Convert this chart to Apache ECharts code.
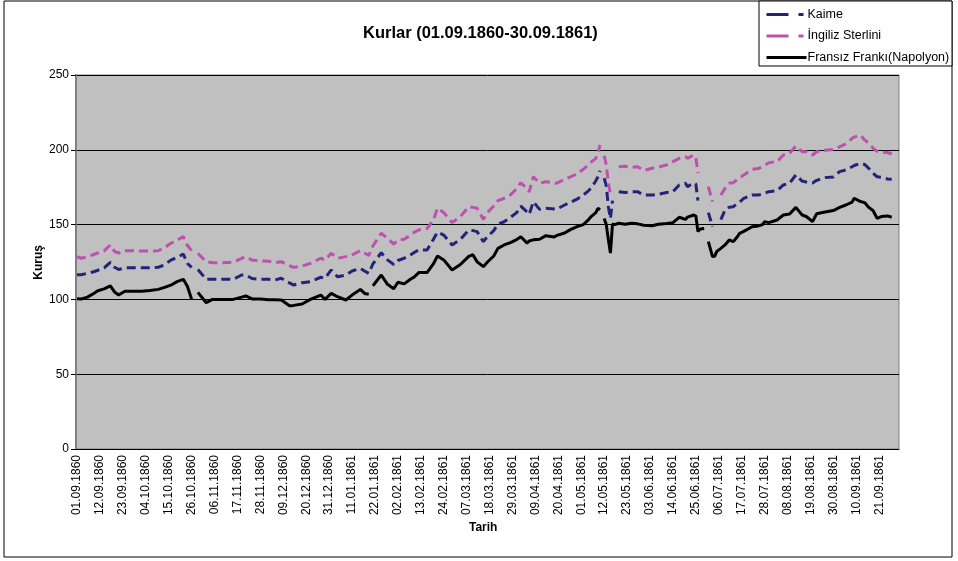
<!DOCTYPE html>
<html>
<head>
<meta charset="utf-8">
<script src="https://cdn.jsdelivr.net/npm/echarts@6/dist/echarts.min.js"></script>
<style>
html,body{margin:0;padding:0;background:#fff;}
#main{width:958px;height:561px;}
</style>
</head>
<body>
<div id="main"></div>
<script>
// gun sayisi 01.09.1860'dan itibaren
var days = [0,2,5,8,10,13,16,18,20,23,27,31,35,39,42,45,48,51,53,55,56,58,62,65,70,75,79,81,84,88,92,95,
  98,102,104,108,112,117,119,122,125,129,132,136,138,140,141,142,146,149,152,154,157,160,162,164,168,171,173,176,180,184,188,190,192,195,197,
  200,202,205,208,211,213,216,217,219,222,225,229,230,234,237,240,243,245,247,249,250,251,252,253,254,255,256,257,258,
  260,263,266,269,272,276,279,283,286,289,292,293,296,297,298,299,301,302,303,305,306,307,
  309,311,313,315,317,318,320,324,327,329,330,332,336,339,342,345,348,350,353,355,359,363,366,369,372,373,376,378,380,382,384,386,389,391];
var kaime = [116.5,116.5,117.5,118.5,119.5,121,124.8,121.5,120,121.2,121.2,121.2,121.2,121.5,123,126.3,128,130.3,124,121.4,null,120,113.4,113.4,113.4,113.5,116.3,116.3,114,113.4,113.4,113,
  114.1,111,109.6,111.2,111.9,114.8,114.1,119.7,115.2,116.3,119,120.8,119,117.4,120.5,123.7,131.2,126.4,123.3,126,127.5,129.7,131.5,133,133,140,145,143,136.4,140.2,146.4,146,145.3,138.6,142,
  146,150.4,151.9,154.9,158,162.4,158.5,156.8,165.3,160.2,160.9,160.5,160.2,163.1,165,167,169.8,172,174.8,179.3,182,186,null,181,176,162,154,166,null,
  172,171.4,171.9,172,169.8,169.8,170.3,171.4,172,176.5,177.6,175.4,178,177,166,null,null,null,158,148.6,null,null,
  153.3,159.8,161.6,162,164.3,165,167.6,169.8,169.8,170.5,171,172,172.7,176.5,177.6,183.2,179.1,178.5,177.8,179.6,181.4,181.8,185.4,186.5,188.7,189.5,190.9,190.2,187.6,184.3,182,181.6,180.5,180.3];
var sterlin = [128.5,127.5,128.5,130,131,132.5,136.4,132,131,132.6,132.5,132.3,132.3,132.6,134.5,137.5,139.5,142,136,132.6,null,130.8,125.2,124.5,124.5,125,127.5,128.5,126.3,125.7,125.5,124.5,
  125.2,122.5,121.4,122.3,124.1,127.5,126.4,130.8,127.5,128.6,129.7,132.6,131,129.3,132.5,135.7,144.2,140.9,137,139.7,140.2,143,145,146.4,147.4,153,161,158,151.3,155.4,162,161.5,160.9,153.5,158,
  162.5,166,167.6,169.8,174,178,174,171.9,182,177.6,178.7,178,177.6,180.3,182,184,187,189.5,192.1,194.3,198,203.2,null,196,190,178,170,null,null,
  188.7,189,188.3,188.7,186.2,187.7,188.3,189.9,192.1,194.3,195.4,194.3,196.5,195,184.5,null,null,null,175.4,165.3,null,null,
  169.8,174.2,177.6,178,180.3,181,183.2,186.9,187.5,188.7,189.5,191.4,192.1,196.5,197.6,202.5,198.7,198.7,196.5,198.7,199.7,200.2,202,203.9,207.7,208.5,209.9,206.6,204.4,201.1,199,198.4,198.2,197.2];
var frank = [100.5,100.3,101.5,104,105.8,107,109,105,103,105.4,105.4,105.4,106,106.7,108,109.5,111.9,113.4,108.6,100,null,104.7,97.8,100,100,100,101.5,102.3,100.3,100.3,99.8,99.8,
  99.6,95.8,96,96.9,100,102.9,100,104,101.8,99.6,102.9,106.7,104,103.5,null,109,116.3,110.1,107.1,111.5,110.4,113.5,115.2,117.9,117.9,123.7,129,126.4,119.7,123.3,128.8,129.9,125.2,121.9,125,
  129,134.1,136.4,137.9,140,141.9,137.6,139,139.8,140.2,142.6,141.7,142.6,144.4,146.8,148.6,150,152.6,155.7,158,160.9,159.8,null,154,150,140,131,150.4,150,
  150.9,150.2,150.9,150.5,149.6,149.2,150.2,150.7,151.3,154.9,153.5,155,156.4,155.7,145.3,147,147.4,null,138.6,128.6,128.8,132,
  134.1,136.4,139.7,138.6,142,144.2,145.5,148.6,149.1,150,152,151.3,153.1,156.4,157.1,161.5,156.4,155.4,152,157.3,158.4,159.4,161.5,163.1,165,167.6,165.4,164.7,161.5,159.4,154.2,155.4,155.8,154.9];

// 01.09.1860 - 30.09.1861 gunluk tarih etiketleri
var dates = [];
var start = Date.UTC(1860, 8, 1);
for (var i = 0; i < 395; i++) {
    var dt = new Date(start + i * 86400000);
    var dd = ('0' + dt.getUTCDate()).slice(-2), mm = ('0' + (dt.getUTCMonth() + 1)).slice(-2);
    dates.push(dd + '.' + mm + '.' + dt.getUTCFullYear());
}

function pairs(vals) {
    return days.map(function (d, i) { return [d, vals[i]]; });
}

var font = 'Liberation Sans, Arial, sans-serif';
var myChart = echarts.init(document.getElementById('main'));
var option = {
    animation: false,
    backgroundColor: '#fff',
    textStyle: {fontFamily: font},
    title: {
        text: 'Kurlar (01.09.1860-30.09.1861)',
        left: 358, top: 20,
        textStyle: {fontSize: 16.5, fontWeight: 'bold', color: '#000', fontFamily: font}
    },
    legend: {
        orient: 'vertical',
        left: 760, top: 3,
        itemWidth: 40, itemHeight: 12, itemGap: 8.5,
        itemStyle: {opacity: 0},
        lineStyle: {width: 3},
        textStyle: {fontSize: 12.5, color: '#000', fontFamily: font, padding: [0, 0, 0, -4]},
        data: [
            {name: 'Kaime', lineStyle: {type: [22, 10, 5, 3], width: 3}},
            {name: 'İngiliz Sterlini', lineStyle: {type: [22, 10, 5, 3], width: 3}},
            {name: 'Fransız Frankı(Napolyon)', lineStyle: {width: 3}}
        ]
    },
    grid: {
        left: 76, right: 59, top: 75, bottom: 112,
        show: true, backgroundColor: '#C0C0C0', borderColor: '#808080', borderWidth: 1
    },
    xAxis: {
        type: 'category',
        data: dates,
        boundaryGap: true,
        axisLine: {lineStyle: {color: '#000', width: 1}},
        axisTick: {interval: 0, length: 3, lineStyle: {color: '#555'}},
        axisLabel: {interval: 10, rotate: 90, fontSize: 12, color: '#000', margin: 6, fontFamily: font},
        splitLine: {show: false}
    },
    yAxis: {
        type: 'value',
        min: 0, max: 250, interval: 50,
        axisLine: {show: true, lineStyle: {color: '#808080', width: 2}},
        axisTick: {show: true, length: 5, lineStyle: {color: '#000'}},
        axisLabel: {fontSize: 12, color: '#000', margin: 7, fontFamily: font},
        splitLine: {lineStyle: {color: '#000', width: 1}}
    },
    graphic: [
        {type: 'rect', shape: {x: 4, y: 1, width: 948, height: 556}, style: {fill: null, stroke: '#000', lineWidth: 1}, z: -1},
        {type: 'rect', shape: {x: 759, y: 1, width: 193, height: 65}, style: {fill: '#fff', stroke: '#000', lineWidth: 1}, z: 0},
        {type: 'text', left: 33, top: 245, rotation: Math.PI / 2,
            style: {text: 'Kuruş', font: 'bold 12px ' + font, fill: '#000'}},
        {type: 'text', left: 469, top: 522,
            style: {text: 'Tarih', font: 'bold 12px ' + font, fill: '#000'}}
    ],
    series: [
        {name: 'Kaime', type: 'line', data: pairs(kaime), showSymbol: false, symbol: 'none',
            itemStyle: {color: '#24237A'}, lineStyle: {color: '#24237A', width: 3, type: [9, 5]}, z: 3},
        {name: 'İngiliz Sterlini', type: 'line', data: pairs(sterlin), showSymbol: false, symbol: 'none',
            itemStyle: {color: '#BE50B0'}, lineStyle: {color: '#BE50B0', width: 3, type: [9, 5]}, z: 3},
        {name: 'Fransız Frankı(Napolyon)', type: 'line', data: pairs(frank), showSymbol: false, symbol: 'none',
            itemStyle: {color: '#000'}, lineStyle: {color: '#000', width: 3}, z: 3}
    ]
};
myChart.setOption(option);
</script>
</body>
</html>
